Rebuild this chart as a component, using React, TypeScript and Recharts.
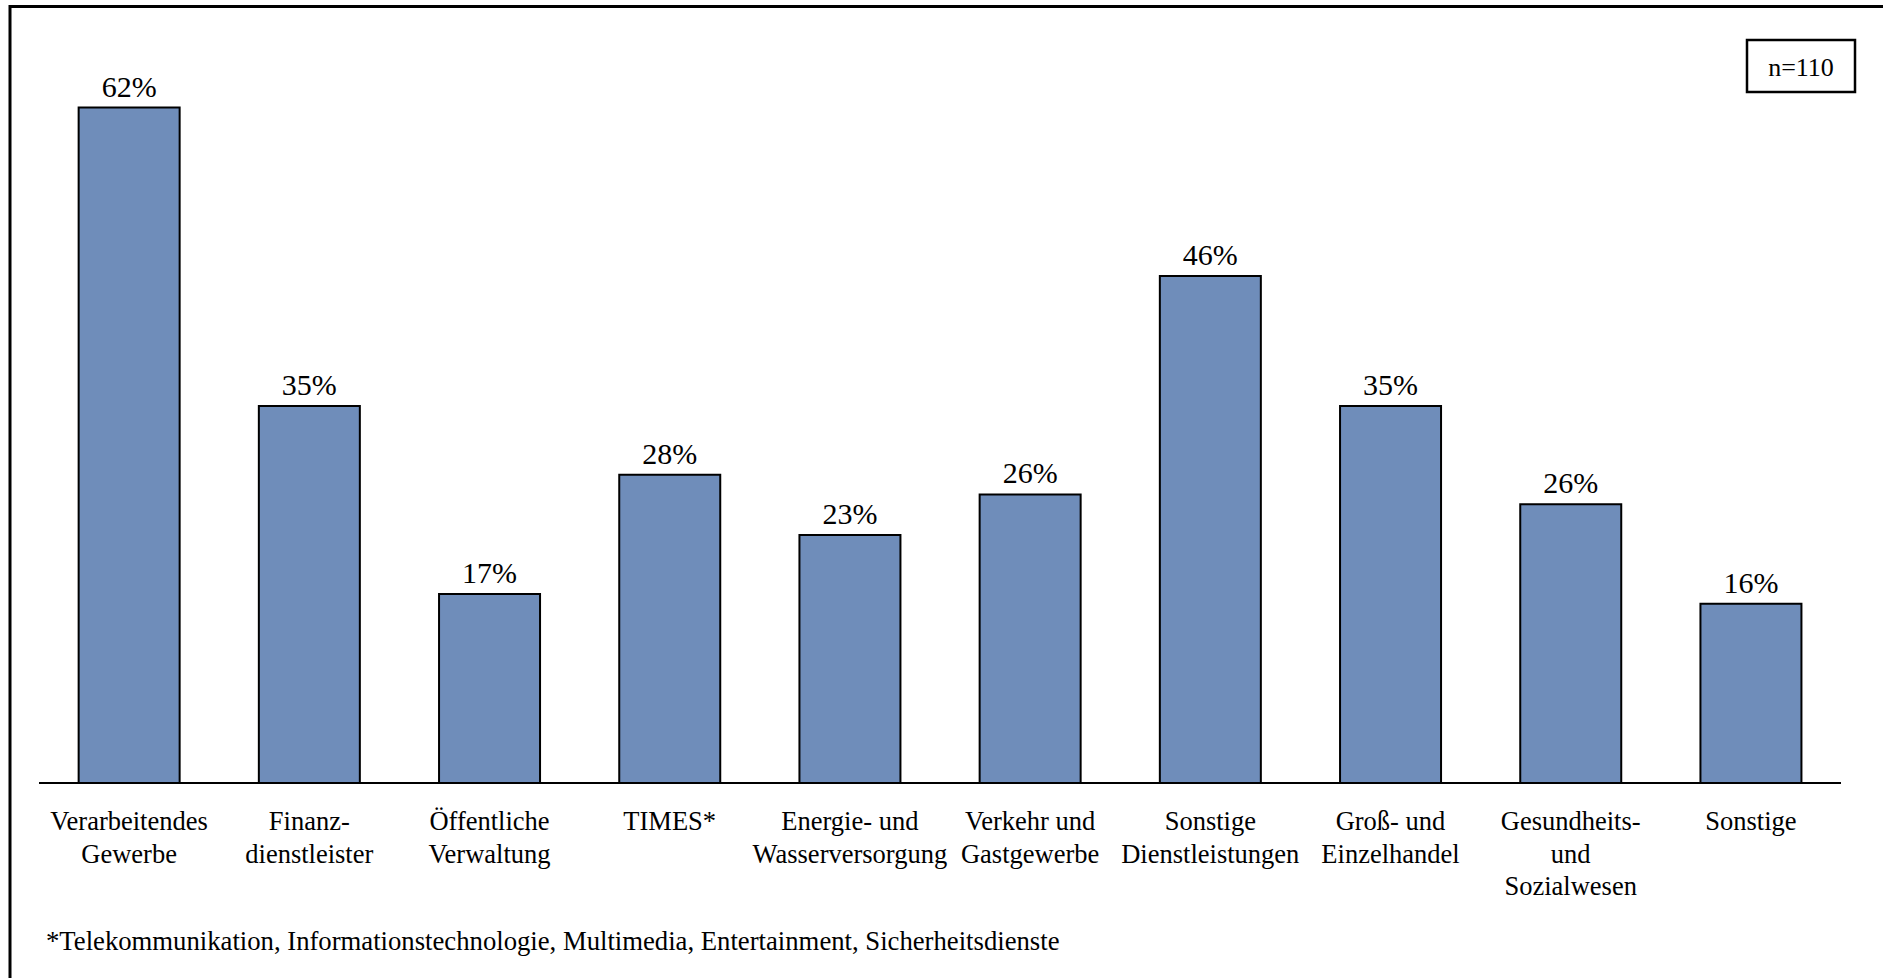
import { Bar, BarChart, LabelList, XAxis, YAxis } from 'recharts'

const W = 1883
const H = 978
const FONT = '"Liberation Serif", "Times New Roman", serif'
const BAR_FILL = '#6F8DBA'

// Branchen (categories), line breaks as in the original slide
const categories = [
  'Verarbeitendes\nGewerbe',
  'Finanz-\ndienstleister',
  'Öffentliche\nVerwaltung',
  'TIMES*',
  'Energie- und\nWasserversorgung',
  'Verkehr und\nGastgewerbe',
  'Sonstige\nDienstleistungen',
  'Groß- und\nEinzelhandel',
  'Gesundheits-\nund\nSozialwesen',
  'Sonstige',
]

// share of respondents in %, n=110
const shares = [61.8, 34.5, 17.3, 28.2, 22.7, 26.4, 46.4, 34.5, 25.5, 16.4]

const footnote = '*Telekommunikation, Informationstechnologie, Multimedia, Entertainment, Sicherheitsdienste'
const sampleLabel = 'n=110'

const data = categories.map((name, i) => ({ name, share: shares[i] }))

function CategoryTick({ x, y, payload }: any) {
  const lines = String(payload.value).split('\n')
  return (
    <text x={x} y={y} textAnchor="middle" fontFamily={FONT} fontSize={26.5} fill="#000">
      {lines.map((line, i) => (
        <tspan key={i} x={x} dy={i === 0 ? 39 : 32.5}>
          {line}
        </tspan>
      ))}
    </text>
  )
}

export default function App() {
  return (
    <div style={{ position: 'absolute', left: 0, top: 0, width: W, height: H, background: '#fff' }}>
      <BarChart
        width={W}
        height={H}
        data={data}
        margin={{ top: 18, right: 42, bottom: 0, left: 39 }}
        barCategoryGap="22%"
      >
        <YAxis hide domain={[0, 70]} />
        <XAxis
          dataKey="name"
          interval={0}
          height={195}
          tickLine={false}
          axisLine={{ stroke: '#000', strokeWidth: 2 }}
          tick={<CategoryTick />}
        />
        <Bar dataKey="share" fill={BAR_FILL} stroke="#000" strokeWidth={2} isAnimationActive={false}>
          <LabelList
            dataKey="share"
            position="top"
            offset={11}
            formatter={(v: any) => `${Math.round(Number(v))}%`}
            style={{ fontFamily: FONT, fontSize: 30, fill: '#000' }}
          />
        </Bar>
      </BarChart>

      <svg width={W} height={H} style={{ position: 'absolute', left: 0, top: 0, pointerEvents: 'none' }}>
        {/* slide frame, cropped on right and bottom */}
        <line x1={10} y1={6.5} x2={W} y2={6.5} stroke="#000" strokeWidth={3} />
        <line x1={10} y1={5} x2={10} y2={H} stroke="#000" strokeWidth={3} />
        <rect x={1747} y={40} width={108} height={52} fill="#fff" stroke="#000" strokeWidth={2.5} />
        <text x={1801} y={76} textAnchor="middle" fontFamily={FONT} fontSize={26} fill="#000">
          {sampleLabel}
        </text>
        <text x={46} y={950} fontFamily={FONT} fontSize={26.7} fill="#000">
          {footnote}
        </text>
      </svg>
    </div>
  )
}
